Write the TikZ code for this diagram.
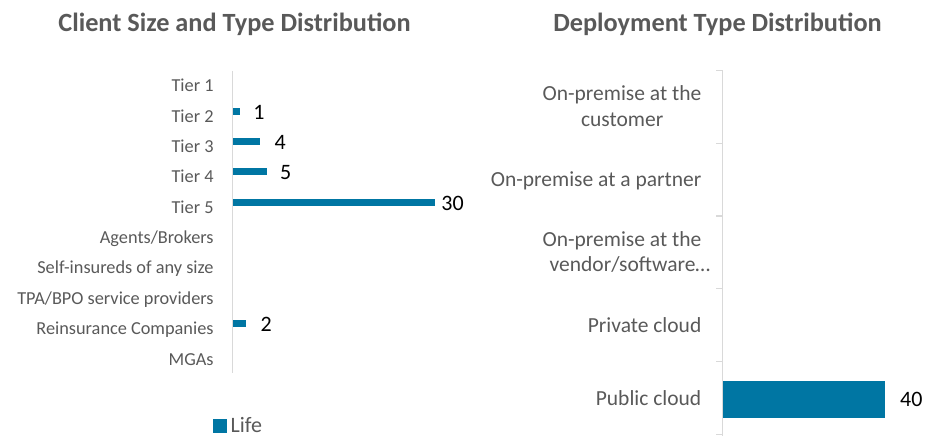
\documentclass[tikz,border=0pt]{standalone}
\usepackage{fontspec}
\setmainfont{Carlito}
\definecolor{barblue}{RGB}{0,118,163}
\definecolor{labelgray}{RGB}{89,89,89}
\definecolor{axisgray}{RGB}{217,217,217}
\tikzset{
  charttitle/.style={inner sep=0pt, text=labelgray, font=\fontsize{26.3}{30}\selectfont\bfseries},
  catlabel/.style={inner sep=0pt, anchor=base east, text=labelgray, font=\fontsize{18.3}{22}\selectfont},
  deplabel/.style={inner sep=0pt, anchor=base east, text=labelgray, font=\fontsize{21.5}{26}\selectfont},
  vallabel/.style={inner sep=0pt, anchor=base west, text=black, font=\fontsize{22}{26}\selectfont},
  axisline/.style={draw=axisgray, line width=1.3pt},
  databar/.style={fill=barblue, draw=none},
}
\begin{document}
\begin{tikzpicture}[x=1pt,y=-1pt]
\useasboundingbox (0,0) rectangle (926,436);

% ---- titles
\node[charttitle, anchor=base] (t1) at (234.5,31.7) {Client Size and Type Distribution};
\node[charttitle, anchor=base] (t2) at (717.5,31.7) {Deployment Type Distribution};

% ---- left chart: category labels (row pitch 30.37)
\foreach \lab [count=\i from 0] in {Tier 1,Tier 2,Tier 3,Tier 4,Tier 5,Agents/Brokers,
    Self-insureds of any size,TPA/BPO service providers,Reinsurance Companies,MGAs}
  \node[catlabel] (c\i) at (213.8,{91.7+30.37*\i}) {\lab};

% vertical axis
\coordinate (la1) at (232.3,71);
\coordinate (la2) at (232.3,373);
\draw[axisline] (la1) -- (la2);

% bars: 6.73 per unit, 7 high, centred 5 above the label
\foreach \i/\v in {1/1,2/4,3/5,4/30,8/2}
  \fill[databar] (233,{80.8+30.37*\i-3.5}) rectangle ({233+6.73*\v},{80.8+30.37*\i+3.5});

% value labels
\node[vallabel] (v1) at (253.1,{88.8+30.37*1}) {1};
\node[vallabel] (v2) at (274.3,{88.8+30.37*2}) {4};
\node[vallabel] (v3) at (280.0,{88.8+30.37*3}) {5};
\node[vallabel] (v4) at (441.2,{88.8+30.37*4}) {30};
\node[vallabel] (v8) at (260.5,{88.8+30.37*8}) {2};

% legend
\fill[databar] (213,419) rectangle (227,433);
\node[vallabel, text=labelgray] (leg) at (230.5,432.7) {Life};

% ---- right chart: category labels
\node[deplabel] (d1a) at (701.5,100.7) {On-premise at the};
\node[deplabel] (d1b) at (663.5,126.7) {customer};
\node[deplabel] (d2)  at (701.5,186.7) {On-premise at a partner};
\node[deplabel] (d3a) at (701.5,246.7) {On-premise at the};
\node[deplabel] (d3b) at (710.5,271.7) {vendor/software…};
\node[deplabel] (d4)  at (701.5,332.3) {Private cloud};
\node[deplabel] (d5)  at (701.5,405.7) {Public cloud};

% axis with category ticks
\coordinate (ra1) at (722.5,70.7);
\coordinate (ra2) at (722.5,436);
\draw[axisline] (ra1) -- (ra2);
\foreach \k in {0,...,5}
  \draw[axisline] (716,{70.7+72.7*\k}) -- (722.5,{70.7+72.7*\k});

% bar
\fill[databar] (723,381) rectangle (885,417.7);
\node[vallabel] (v40) at (900,406) {40};
\end{tikzpicture}
\end{document}
